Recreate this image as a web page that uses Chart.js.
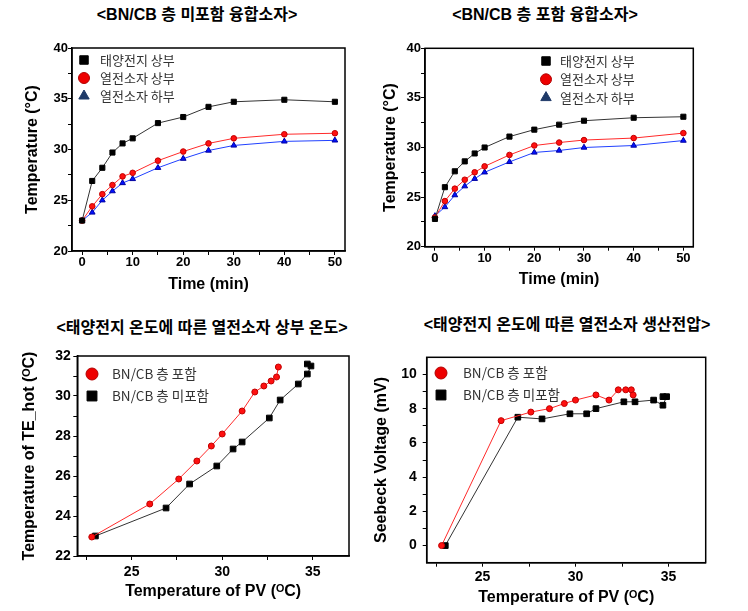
<!DOCTYPE html>
<html>
<head>
<meta charset="utf-8">
<script src="https://cdn.jsdelivr.net/npm/chart.js@4.4.1/dist/chart.umd.min.js"></script>
<style>
  body { margin: 0; background: #fff; }
  #wrap { position: relative; width: 748px; height: 611px; overflow: hidden; }
  canvas { position: absolute; }
  .ttl { position: absolute; transform: translateX(-50%); white-space: nowrap;
         font: bold 16px "Liberation Sans", "Noto Sans CJK KR", sans-serif; line-height: 20px; color: #000; }
</style>
</head>
<body>
<div id="wrap">
  <div class="ttl" style="left:197px;top:5px">&lt;BN/CB 층 미포함 융합소자&gt;</div>
  <div class="ttl" style="left:545px;top:5px">&lt;BN/CB 층 포함 융합소자&gt;</div>
  <div class="ttl" style="left:202px;top:318px">&lt;태양전지 온도에 따른 열전소자 상부 온도&gt;</div>
  <div class="ttl" style="left:567px;top:315px">&lt;태양전지 온도에 따른 열전소자 생산전압&gt;</div>
  <canvas id="c1" width="374" height="270" style="left:0;top:30px"></canvas>
  <canvas id="c2" width="374" height="270" style="left:374px;top:30px"></canvas>
  <canvas id="c3" width="374" height="271" style="left:0;top:340px"></canvas>
  <canvas id="c4" width="382" height="271" style="left:366px;top:340px"></canvas>
</div>
<script>
// measured time points (min)
const timeMin = [0, 2, 4, 6, 8, 10, 15, 20, 25, 30, 40, 50];

// device without BN/CB layer
const noLayerPV     = [23.0, 26.9, 28.2, 29.7, 30.6, 31.1, 32.6, 33.2, 34.2, 34.7, 34.9, 34.7];
const noLayerTEhot  = [23.0, 24.4, 25.6, 26.5, 27.35, 27.7, 28.9, 29.8, 30.6, 31.1, 31.5, 31.6];
const noLayerTEcold = [23.0, 23.8, 25.0, 25.9, 26.7, 27.1, 28.2, 29.1, 29.9, 30.4, 30.8, 30.9];
const noLayerVolt   = [0, 7.5, 7.4, 7.7, 7.7, 8.0, 8.4, 8.4, 8.5, 8.2, 8.7, 8.7];

// device with BN/CB layer
const withLayerPV     = [22.8, 26.0, 27.6, 28.6, 29.4, 30.0, 31.1, 31.8, 32.3, 32.7, 33.0, 33.1];
const withLayerTEhot  = [22.95, 24.6, 25.85, 26.75, 27.5, 28.1, 29.25, 30.2, 30.5, 30.75, 30.95, 31.45];
const withLayerTEcold = [23.1, 24.0, 25.2, 26.1, 26.85, 27.5, 28.55, 29.5, 29.7, 30.0, 30.2, 30.7];
const withLayerVolt   = [0, 7.3, 7.8, 8.0, 8.3, 8.5, 8.8, 8.5, 9.1, 9.1, 9.1, 8.8];

// tick positions
const timeTicks = [0, 5, 10, 15, 20, 25, 30, 35, 40, 45, 50];
const tempTicks = [20, 22.5, 25, 27.5, 30, 32.5, 35, 37.5, 40];
const pvTicks = [22.5, 25, 27.5, 30, 32.5, 35];
const teHotTicks = [22, 23, 24, 25, 26, 27, 28, 29, 30, 31, 32];
const voltTicks = [0, 1, 2, 3, 4, 5, 6, 7, 8, 9, 10];

const seriesTop = ['태양전지 상부', '열전소자 상부', '열전소자 하부'];
const seriesBottom = ['BN/CB 층 포함', 'BN/CB 층 미포함'];

const LATIN = '"Liberation Sans", "DejaVu Sans", "Noto Sans CJK KR", sans-serif';
const KOREAN = '"Noto Sans CJK KR", sans-serif';

const pairs = (xs, ys) => xs.map((x, i) => ({ x: x, y: ys[i] }));

const frameBox = {
  id: 'frameBox',
  afterDraw(chart) {
    const a = chart.chartArea;
    const ctx = chart.ctx;
    ctx.save();
    ctx.strokeStyle = '#000';
    ctx.lineWidth = 1.5;
    ctx.strokeRect(a.left, a.top, a.right - a.left, a.bottom - a.top);
    ctx.restore();
  }
};

const insideLegend = {
  id: 'insideLegend',
  afterDraw(chart, args, opts) {
    if (!opts || opts.x === undefined) return;
    const ctx = chart.ctx;
    ctx.save();
    chart.data.datasets.forEach((ds, i) => {
      const cx = opts.x;
      const cy = opts.y + i * opts.gap;
      ctx.fillStyle = ds.legendFill || ds.pointBackgroundColor;
      ctx.strokeStyle = ds.legendStroke || ds.pointBorderColor;
      ctx.lineWidth = 1;
      Chart.helpers.drawPoint(ctx, { pointStyle: ds.pointStyle, radius: ds.legendRadius, borderWidth: 1, rotation: 0 }, cx, cy);
      ctx.fillStyle = '#333';
      ctx.font = opts.font;
      ctx.textAlign = 'left';
      ctx.textBaseline = 'middle';
      ctx.fillText(ds.label, opts.textX, cy);
    });
    ctx.restore();
  }
};

function axis(o) {
  return {
    type: 'linear',
    min: o.min,
    max: o.max,
    afterBuildTicks: s => { s.ticks = o.ticks.map(v => ({ value: v })); },
    afterFit: s => { if (o.width) s.width = o.width; if (o.height) s.height = o.height; },
    grid: { drawOnChartArea: false, drawTicks: true, tickLength: 4, color: '#000', tickColor: '#000' },
    border: { display: true, color: '#000', width: 1.5 },
    ticks: {
      autoSkip: false, maxRotation: 0, padding: o.tickPad,
      color: '#000', font: { family: LATIN, size: o.tickSize, weight: 'bold' },
      callback: v => (o.major(v) ? v : '')
    },
    title: {
      display: true, text: o.title, color: '#000',
      font: { family: LATIN, size: 16, weight: 'bold' },
      padding: o.titlePad
    }
  };
}

function lineSet(label, data, style) {
  return Object.assign({
    label: label,
    data: data,
    borderWidth: 1,
    pointBorderWidth: 1,
    tension: 0,
    fill: false
  }, style);
}

const blackStyle = (r, lr) => ({ borderColor: '#333', pointStyle: 'rect', pointRadius: r, pointBackgroundColor: '#000', pointBorderColor: '#000', legendRadius: lr, legendFill: '#000', legendStroke: '#000' });
const redStyle = (r, lr) => ({ borderColor: '#ff2a2a', pointStyle: 'circle', pointRadius: r, pointBackgroundColor: '#ff1010', pointBorderColor: '#c00000', legendRadius: lr, legendFill: '#ee0000', legendStroke: '#b00000' });
const blueStyle = (r, lr) => ({ borderColor: '#2040ff', pointStyle: 'triangle', pointRadius: r, pointBackgroundColor: '#0010ff', pointBorderColor: '#0000a0', legendRadius: lr, legendFill: '#1f3a68', legendStroke: '#1f3a68' });

function makeChart(id, datasets, layout, xAxis, yAxis, legend) {
  return new Chart(document.getElementById(id), {
    type: 'line',
    data: { datasets: datasets },
    options: {
      responsive: false,
      animation: false,
      layout: { padding: layout },
      plugins: { legend: { display: false }, tooltip: { enabled: false }, insideLegend: legend },
      scales: { x: xAxis, y: yAxis }
    },
    plugins: [frameBox, insideLegend]
  });
}

// top left: without BN/CB layer
makeChart('c1', [
  lineSet(seriesTop[0], pairs(timeMin, noLayerPV), blackStyle(3.6, 6)),
  lineSet(seriesTop[1], pairs(timeMin, noLayerTEhot), redStyle(2.8, 5.5)),
  lineSet(seriesTop[2], pairs(timeMin, noLayerTEcold), blueStyle(3.3, 6))
], { top: 18, right: 29, left: 0, bottom: 0 },
  axis({ min: -2, max: 52, ticks: timeTicks, major: v => v % 10 === 0, height: 49, tickPad: 0, tickSize: 13, title: 'Time (min)', titlePad: { top: 0, bottom: 5.4 } }),
  axis({ min: 20, max: 40, ticks: tempTicks, major: v => v % 5 === 0, width: 72, tickPad: 0, tickSize: 13, title: 'Temperature (°C)', titlePad: { top: 23.4, bottom: 0 } }),
  { x: 84, y: 30, gap: 18, textX: 100, font: '13px ' + KOREAN }
);

// top right: with BN/CB layer
makeChart('c2', [
  lineSet(seriesTop[0], pairs(timeMin, withLayerPV), blackStyle(3.6, 6)),
  lineSet(seriesTop[1], pairs(timeMin, withLayerTEhot), redStyle(2.8, 5.5)),
  lineSet(seriesTop[2], pairs(timeMin, withLayerTEcold), blueStyle(3.3, 6))
], { top: 18.3, right: 54.7, left: 0, bottom: 0 },
  axis({ min: -2, max: 52, ticks: timeTicks, major: v => v % 10 === 0, height: 53.3, tickPad: 0, tickSize: 13, title: 'Time (min)', titlePad: { top: 0, bottom: 10.4 } }),
  axis({ min: 20, max: 40, ticks: tempTicks, major: v => v % 5 === 0, width: 51, tickPad: 0, tickSize: 13, title: 'Temperature (°C)', titlePad: { top: 7, bottom: 0 } }),
  { x: 172, y: 31, gap: 18.3, textX: 186, font: '13px ' + KOREAN }
);

// bottom left: TE hot side vs PV temperature
makeChart('c3', [
  lineSet(seriesBottom[0], pairs(withLayerPV, withLayerTEhot), redStyle(3, 6)),
  lineSet(seriesBottom[1], pairs(noLayerPV, noLayerTEhot), blackStyle(4, 7))
], { top: 16, right: 25, left: 0, bottom: 0 },
  axis({ min: 22, max: 37, ticks: pvTicks, major: v => v % 5 === 0, height: 55, tickPad: 3.3, tickSize: 14, title: 'Temperature of PV (ᴼC)', titlePad: { top: 0, bottom: 9.4 } }),
  axis({ min: 22, max: 32, ticks: teHotTicks, major: v => v % 2 === 0, width: 77.3, tickPad: 2.6, tickSize: 14, title: 'Temperature of TE_hot (ᴼC)', titlePad: { top: 20.4, bottom: 0 } }),
  { x: 92, y: 34, gap: 22, textX: 112, font: '13.5px ' + KOREAN }
);

// bottom right: Seebeck voltage vs PV temperature
makeChart('c4', [
  lineSet(seriesBottom[0], pairs(withLayerPV, withLayerVolt), redStyle(3, 6)),
  lineSet(seriesBottom[1], pairs(noLayerPV, noLayerVolt), blackStyle(4, 7))
], { top: 17.3, right: 42.3, left: 0, bottom: 0 },
  axis({ min: 22, max: 37, ticks: pvTicks, major: v => v % 5 === 0, height: 48.3, tickPad: 1.6, tickSize: 14, title: 'Temperature of PV (ᴼC)', titlePad: { top: 0, bottom: 3.7 } }),
  axis({ min: -1, max: 11, ticks: voltTicks, major: v => v % 2 === 0, width: 60.7, tickPad: 6, tickSize: 14, title: 'Seebeck Voltage (mV)', titlePad: { top: 6.4, bottom: 0 } }),
  { x: 75, y: 33, gap: 22, textX: 97, font: '13.5px ' + KOREAN }
);
</script>
</body>
</html>
